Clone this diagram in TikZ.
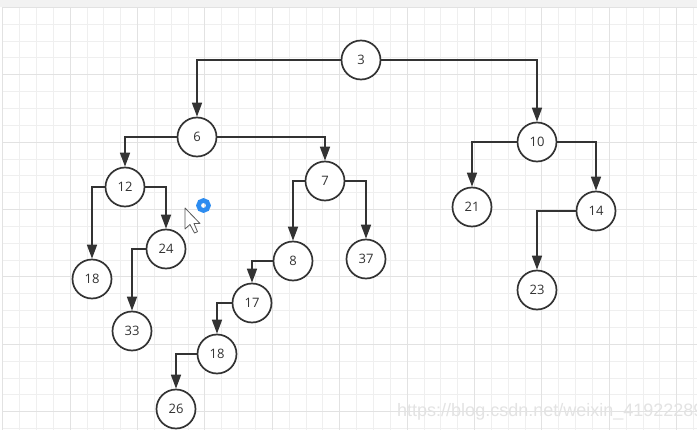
\documentclass[tikz,border=0pt]{standalone}
\usepackage{fontspec}
\setmainfont{Open Sans}
\newfontfamily\markfont{Liberation Sans}
\usepackage{tikz}
\usetikzlibrary{arrows.meta}
\definecolor{ink}{HTML}{333333}
\definecolor{minorgrid}{HTML}{EFEFEF}
\definecolor{majorgrid}{HTML}{E2E2E2}
\definecolor{topbar}{HTML}{F2F2F2}
\definecolor{ringblue}{HTML}{2D8CF0}
\tikzset{edge/.style = {->, > = {Triangle[length=14pt,width=10pt]}, draw=ink, line width=1.7pt}}
\tikzset{key/.style = {circle, draw=ink, fill=white, line width=1.7pt, minimum size=39pt, inner sep=0pt, text=ink, font=\fontsize{13pt}{15pt}\selectfont}}

\begin{document}
\begin{tikzpicture}[x=1pt,y=-1pt]
                    \clip (0,0) rectangle (697,439);
                    \fill[white] (0,0) rectangle (697,439);
                    \fill[topbar] (0,0) rectangle (697,6.5);

                    % grid lines
                    \foreach \i in {0,...,41} {
                        \pgfmathsetmacro{\gx}{2.7+16.85*\i}
                        \draw[minorgrid, line width=0.9pt] (\gx,7.3) -- (\gx,430);
                    }
                    \foreach \j in {0,...,25} {
                        \pgfmathsetmacro{\gy}{7.3+16.85*\j}
                        \draw[minorgrid, line width=0.9pt] (2.7,\gy) -- (697,\gy);
                    }
                    \foreach \i in {0,...,10} {
                        \pgfmathsetmacro{\gx}{2.7+67.4*\i}
                        \draw[majorgrid, line width=0.9pt] (\gx,7.3) -- (\gx,430);
                    }
                    \foreach \j in {0,...,6} {
                        \pgfmathsetmacro{\gy}{7.3+67.4*\j}
                        \draw[majorgrid, line width=0.9pt] (2.7,\gy) -- (697,\gy);
                    }

                    % keys of the tree
                    \node[key] (n3) at (361,60) {3};
                    \node[key] (n6) at (197,137) {6};
                    \node[key] (n10) at (537,142) {10};
                    \node[key] (n12) at (125,187) {12};
                    \node[key] (n7) at (325,181) {7};
                    \node[key] (n21) at (472,207) {21};
                    \node[key] (n14) at (596,211) {14};
                    \node[key] (n24) at (166,249) {24};
                    \node[key] (n18a) at (92,279) {18};
                    \node[key] (n8) at (293,261) {8};
                    \node[key] (n37) at (366,259) {37};
                    \node[key] (n23) at (537,290) {23};
                    \node[key] (n17) at (252,303) {17};
                    \node[key] (n33) at (132,331) {33};
                    \node[key] (n18b) at (217,354) {18};
                    \node[key] (n26) at (176,409) {26};

                    % Path from 3 to its children
                    \draw [edge] (n3.west) -| (n6.north);
                    \draw [edge] (n3.east) -| (n10.north);

                    % Path from 6 to its children
                    \draw [edge] (n6.west) -| (n12.north);
                    \draw [edge] (n6.east) -| (n7.north);

                    % Path from 12 to its children
                    \draw [edge] (n12.west) -| (n18a.north);
                    \draw [edge] (n12.east) -| (n24.north);

                    % Path 24 to 33
                    \draw [edge] (n24.west) -| (n33.north);

                    % Path from 7 to its children
                    \draw [edge] (n7.west) -| (n8.north);
                    \draw [edge] (n7.east) -| (n37.north);

                    % Path 8 to 17 to 18 to 26
                    \draw [edge] (n8.west) -| (n17.north);
                    \draw [edge] (n17.west) -| (n18b.north);
                    \draw [edge] (n18b.west) -| (n26.north);

                    % Path from 10 to its children
                    \draw [edge] (n10.west) -| (n21.north);
                    \draw [edge] (n10.east) -| (n14.north);

                    % Path 14 to 23
                    \draw [edge] (n14.west) -| (n23.north);

                    % busy ring and pointer
                    \draw[ringblue, line width=4.6pt] (203.5,205.5) circle (5);
                    \draw[fill=white, draw=gray!70!black, line width=0.8pt, line join=round]
                        (185,208) -- ++(0,21) -- ++(5,-4.5) -- ++(4.5,8.5) -- ++(3,-1.3) -- ++(-3.5,-8.2) -- ++(6,0) -- cycle;

                    % watermark
                    \node[anchor=base west, inner sep=0pt, text=gray!22, font=\markfont\fontsize{18pt}{20pt}\selectfont] (mark) at (397,416.5) {https://blog.csdn.net/weixin\_41922289};
                \end{tikzpicture}
\end{document}
